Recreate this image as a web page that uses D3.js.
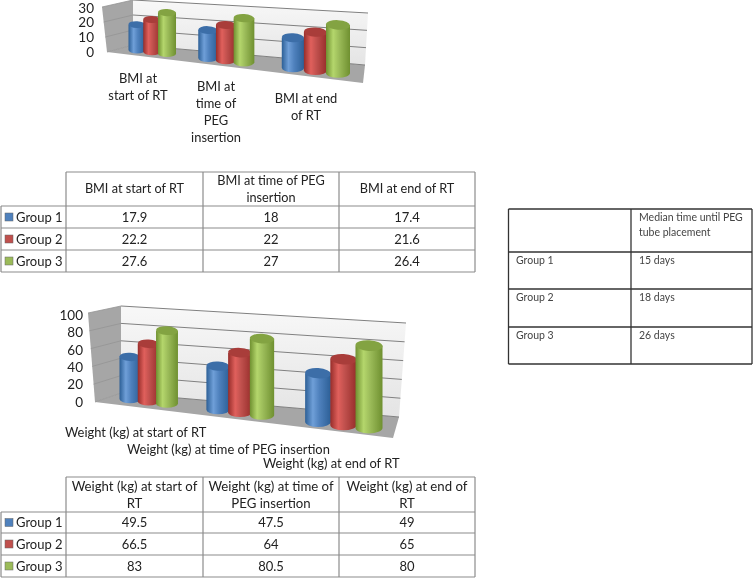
<!DOCTYPE html>
<html><head><meta charset="utf-8">
<script src="https://cdn.jsdelivr.net/npm/d3@7"></script>
<style>html,body{margin:0;padding:0;background:#fff}svg{display:block;filter:blur(.35px)}text{font-family:Lato,"Open Sans",sans-serif}</style>
</head><body><svg id="c" width="753" height="578"></svg>
<script>
const groups = ["Group 1","Group 2","Group 3"];
const bmiCategories = ["BMI at start of RT","BMI at time of PEG insertion","BMI at end of RT"];
const bmiGroup1 = [17.9,18,17.4];
const bmiGroup2 = [22.2,22,21.6];
const bmiGroup3 = [27.6,27,26.4];
const bmiTicks = [0,10,20,30];
const weightCategories = ["Weight (kg) at start of RT","Weight (kg) at time of PEG insertion","Weight (kg) at end of RT"];
const weightGroup1 = [49.5,47.5,49];
const weightGroup2 = [66.5,64,65];
const weightGroup3 = [83,80.5,80];
const weightTicks = [0,20,40,60,80,100];
const medianDays = ["15 days","18 days","26 days"];
const colors = ["#4f81bd","#c0504d","#9bbb59"];
const darks = ["#2c5f96","#962d2a","#6f9030"];
const lights = ["#6f9fd8","#e0605c","#b4d66c"];

const svg = d3.select("#c");
const defs = svg.append("defs");
colors.forEach((c,i)=>{
  const g = defs.append("linearGradient").attr("id","cyl"+i);
  [[0,darks[i]],[.3,lights[i]],[.55,c],[1,darks[i]]].forEach(([o,k])=>g.append("stop").attr("offset",o).attr("stop-color",k));
});
const wallG = defs.append("linearGradient").attr("id","wall").attr("x1",0).attr("x2",0).attr("y1",0).attr("y2",1);
wallG.append("stop").attr("offset",0).attr("stop-color","#f8f8f8");
wallG.append("stop").attr("offset",1).attr("stop-color","#e4e4e4");

function chart(cfg){
  const g = svg.append("g");
  const w = cfg.wall;
  const maxV = cfg.ticks[cfg.ticks.length-1];
  const wallV = d3.scaleLinear().domain([0,maxV]).range([0,1]);
  const pts = a=>a.map(p=>p.join(",")).join(" ");
  g.append("polygon").attr("points",pts([w.bl,w.br,w.fr,w.fl])).attr("fill","#a6a6a6");
  g.append("polygon").attr("points",pts([w.st,w.tl,w.bl,w.fl])).attr("fill","#a6a6a6");
  g.append("polygon").attr("points",pts([w.tl,w.tr,w.br,w.bl])).attr("fill","url(#wall)");
  cfg.ticks.forEach(t=>{
    const f = wallV(t);
    const yL = w.bl[1]+(w.tl[1]-w.bl[1])*f, yR = w.br[1]+(w.tr[1]-w.br[1])*f;
    const xR = w.br[0]+(w.tr[0]-w.br[0])*f;
    const yS = w.fl[1]+(w.st[1]-w.fl[1])*f, xS = w.fl[0]+(w.st[0]-w.fl[0])*f;
    g.append("line").attr("x1",w.tl[0]).attr("y1",yL).attr("x2",xR).attr("y2",yR).attr("stroke","#808080").attr("stroke-width",1);
    g.append("line").attr("x1",xS).attr("y1",yS).attr("x2",w.tl[0]).attr("y2",yL).attr("stroke","#949494").attr("stroke-width",.8);
  });
  const tickY = d3.scaleLinear().domain([0,maxV]).range(cfg.tickRange);
  cfg.ticks.forEach(t=>g.append("text").attr("x",cfg.tickX).attr("y",tickY(t)).attr("dy","0.35em").attr("text-anchor","end").attr("font-size",cfg.fs).attr("fill","#222").text(t));
  const xU = d3.scaleLinear().domain(cfg.uDomain).range(cfg.uRange);
  const baseY = d3.scaleLinear().domain(cfg.xSpan).range(cfg.baseSpan);
  const widthS = d3.scaleLinear().domain(cfg.xSpan).range(cfg.widthSpan);
  const kS = d3.scaleLinear().domain(cfg.xSpan).range(cfg.kSpan);
  const ang = Math.atan2(cfg.baseSpan[1]-cfg.baseSpan[0],cfg.xSpan[1]-cfg.xSpan[0])*180/Math.PI;
  cfg.series.forEach((vals,s)=>{
    vals.forEach((v,c)=>{
      const x = xU(c+(s-1)*cfg.off), wd = widthS(x), yb = baseY(x), yt = yb-v*kS(x), ry = wd*0.2, rx = wd/2;
      const b = g.append("g");
      b.append("path").attr("d",`M${x-rx},${yt}L${x-rx},${yb}A${rx},${ry} 0 0 0 ${x+rx},${yb}L${x+rx},${yt}Z`).attr("fill",`url(#cyl${s})`);
      b.append("ellipse").attr("cx",x).attr("cy",yt).attr("rx",rx).attr("ry",ry).attr("fill",d3.interpolateRgb(colors[s],darks[s])(.55)).attr("transform",`rotate(${ang*.5} ${x} ${yt})`);
    });
  });
  cfg.labels.forEach(l=>{
    l.lines.forEach((t,i)=>g.append("text").attr("x",l.x).attr("y",l.y+i*cfg.lh).attr("dy","0.35em").attr("text-anchor",l.a||"middle").attr("font-size",cfg.labelFs).attr("fill","#222").text(t));
  });
}
chart({
  series:[bmiGroup1,bmiGroup2,bmiGroup3], ticks:bmiTicks, fs:13.5, labelFs:12.9, lh:17, tickX:94, tickRange:[52,8],
  wall:{tl:[133,0],tr:[368,13],bl:[133,45],br:[365,65],fl:[107,52],fr:[363,83],st:[102,7]},
  uDomain:[-.22,.22,.78,1.22,1.78,2.22], uRange:[137,167,208,244,293,338], off:.22,
  xSpan:[137,338], baseSpan:[50,73], widthSpan:[17,24], kSpan:[1.42,1.82],
  labels:[{x:138,y:78,lines:["BMI at","start of RT"]},{x:216,y:86,lines:["BMI at","time of","PEG","insertion"]},{x:306,y:98,lines:["BMI at end","of RT"]}]
});
chart({
  series:[weightGroup1,weightGroup2,weightGroup3], ticks:weightTicks, fs:13.5, labelFs:12.9, lh:0, tickX:83, tickRange:[402,315],
  wall:{tl:[121,306],tr:[406,323],bl:[121,393],br:[399,417],fl:[95,402],fr:[393,438],st:[88,313]},
  uDomain:[-.22,.22,.78,1.22,1.78,2.22], uRange:[130,167,218,262,318,369], off:.22,
  xSpan:[130,369], baseSpan:[399,428], widthSpan:[21,27], kSpan:[.85,1.03],
  labels:[{x:65,y:432,a:"start",lines:[weightCategories[0]]},{x:127,y:449,a:"start",lines:[weightCategories[1]]},{x:263,y:463,a:"start",lines:[weightCategories[2]]}]
});

function table(cfg){
  const g = svg.append("g");
  const xs=cfg.xs, ys=cfg.ys;
  xs.forEach(x=>g.append("line").attr("x1",x).attr("x2",x).attr("y1",x===xs[0]?ys[1]:ys[0]).attr("y2",ys[ys.length-1]).attr("stroke",cfg.stroke).attr("stroke-width",cfg.sw));
  ys.forEach((y,i)=>g.append("line").attr("x1",i===0?xs[1]:xs[0]).attr("x2",xs[xs.length-1]).attr("y1",y).attr("y2",y).attr("stroke",cfg.stroke).attr("stroke-width",cfg.sw));
  cfg.header.forEach((h,i)=>{
    const cx=(xs[i+1]+xs[i+2])/2, cy=(ys[0]+ys[1])/2+cfg.headDy, lh=17;
    h.forEach((t,j)=>g.append("text").attr("x",cx).attr("y",cy+(j-(h.length-1)/2)*lh).attr("dy","0.35em").attr("text-anchor","middle").attr("font-size",cfg.headFs).attr("fill","#222").text(t));
  });
  groups.forEach((n,r)=>{
    const cy=(ys[r+1]+ys[r+2])/2;
    g.append("rect").attr("x",5).attr("y",cy-4).attr("width",8).attr("height",8).attr("fill",colors[r]).attr("stroke","#666").attr("stroke-width",.5);
    g.append("text").attr("x",16).attr("y",cy).attr("dy","0.35em").attr("font-size",13).attr("fill","#222").text(n);
    cfg.rows[r].forEach((v,c)=>g.append("text").attr("x",(xs[c+1]+xs[c+2])/2).attr("y",cy).attr("dy","0.35em").attr("text-anchor","middle").attr("font-size",13).attr("fill","#222").text(v));
  });
}
table({xs:[1,66,203,339,475],ys:[172,206,228,250,272],stroke:"#8c8c8c",sw:1.2,headFs:12.7,headDy:0,
  header:[[bmiCategories[0]],["BMI at time of PEG","insertion"],[bmiCategories[2]]],
  rows:[bmiGroup1,bmiGroup2,bmiGroup3]});
table({xs:[1,66,203,339,475],ys:[477,512,533,555,577],stroke:"#8c8c8c",sw:1.2,headFs:13.2,headDy:0,
  header:[["Weight (kg) at start of","RT"],["Weight (kg) at time of","PEG insertion"],["Weight (kg) at end of","RT"]],
  rows:[weightGroup1,weightGroup2,weightGroup3]});

(function(){
  const xs=[508.5,631,752], ys=[209,252,289,327,364];
  const g=svg.append("g");
  xs.forEach(x=>g.append("line").attr("x1",x).attr("x2",x).attr("y1",ys[0]).attr("y2",ys[4]).attr("stroke","#333").attr("stroke-width",1.3));
  ys.forEach(y=>g.append("line").attr("x1",xs[0]).attr("x2",xs[2]).attr("y1",y).attr("y2",y).attr("stroke","#333").attr("stroke-width",1.3));
  ["Median time until PEG","tube placement"].forEach((t,i)=>g.append("text").attr("x",639).attr("y",217+i*15).attr("dy","0.35em").attr("font-size",10.5).attr("fill","#444").text(t));
  groups.forEach((n,i)=>{
    g.append("text").attr("x",516).attr("y",260+i*37.5).attr("dy","0.35em").attr("font-size",10.5).attr("fill","#444").text(n);
    g.append("text").attr("x",639).attr("y",260+i*37.5).attr("dy","0.35em").attr("font-size",10.5).attr("fill","#444").text(medianDays[i]);
  });
})();
</script></body></html>
